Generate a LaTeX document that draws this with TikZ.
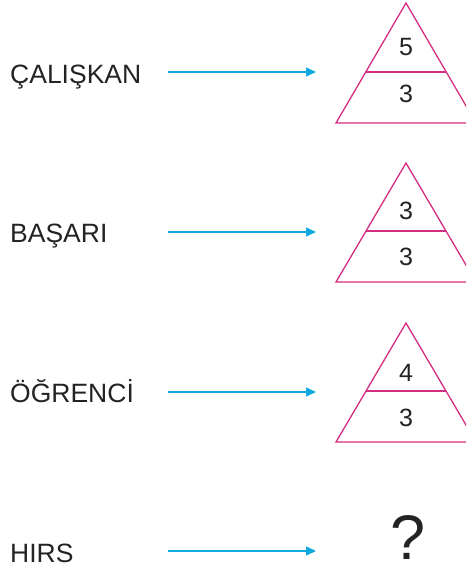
\documentclass[tikz,border=0pt]{standalone}
\usepackage{fontspec}
\setmainfont{Liberation Sans}
\usetikzlibrary{arrows.meta}
\definecolor{okmavi}{RGB}{18,168,222}
\definecolor{ucgenpembe}{RGB}{212,44,128}
\definecolor{yazi}{RGB}{35,35,35}

\tikzset{
	kelime/.style={anchor=base west,inner sep=0pt,text=yazi,font=\fontsize{26.5}{26.5}\selectfont},
	sayi/.style={inner sep=0pt,text=yazi,font=\fontsize{25}{25}\selectfont},
	ok/.style={okmavi,line width=1.5pt,-{Triangle[length=10pt,width=9pt]}},
	ucgen/.style={ucgenpembe,line width=1.3pt,line join=miter}
}

\begin{document}
\begin{tikzpicture}[x=1pt,y=-1pt]
		\useasboundingbox (0,0) rectangle (466,573);
		\clip (0,0) rectangle (466,573);
		% kelimeler
		\node[kelime] (calis) at (10,83) {ÇALIŞKAN};
		\node[kelime] (basari) at (10,242) {BAŞARI};
		\node[kelime] (ogrenci) at (10,402) {ÖĞRENCİ};
		\node[kelime] (hirs) at (10,562) {HIRS};
		% oklar
		\coordinate (o1) at (168,72);   \coordinate (u1) at (316,72);
		\coordinate (o2) at (168,232);  \coordinate (u2) at (316,232);
		\coordinate (o3) at (168,392);  \coordinate (u3) at (316,392);
		\coordinate (o4) at (168,551);  \coordinate (u4) at (316,551);
		\draw[ok](o1)--(u1);
		\draw[ok](o2)--(u2);
		\draw[ok](o3)--(u3);
		\draw[ok](o4)--(u4);
		% ucgenler
		\draw[ucgen](406,3)--(336,123)--(476,123)--cycle;
		\draw[ucgen](365.8,72)--(446.2,72);
		\draw[ucgen](406,163)--(336,282)--(476,282)--cycle;
		\draw[ucgen](366.3,231)--(445.7,231);
		\draw[ucgen](406,323)--(336,442)--(476,442)--cycle;
		\draw[ucgen](366.3,391)--(445.7,391);
		% sayilar
		\node[sayi] (ust1) at (406,47) {5};
		\node[sayi] (alt1) at (406,94) {3};
		\node[sayi] (ust2) at (406,211) {3};
		\node[sayi] (alt2) at (406,257) {3};
		\node[sayi] (ust3) at (406,373) {4};
		\node[sayi] (alt3) at (406,418) {3};
		\node[anchor=base,inner sep=0pt,text depth=0pt,text=yazi,font=\fontsize{63}{63}\selectfont] (soru) at (408,559.5) {?};
	\end{tikzpicture}
\end{document}
